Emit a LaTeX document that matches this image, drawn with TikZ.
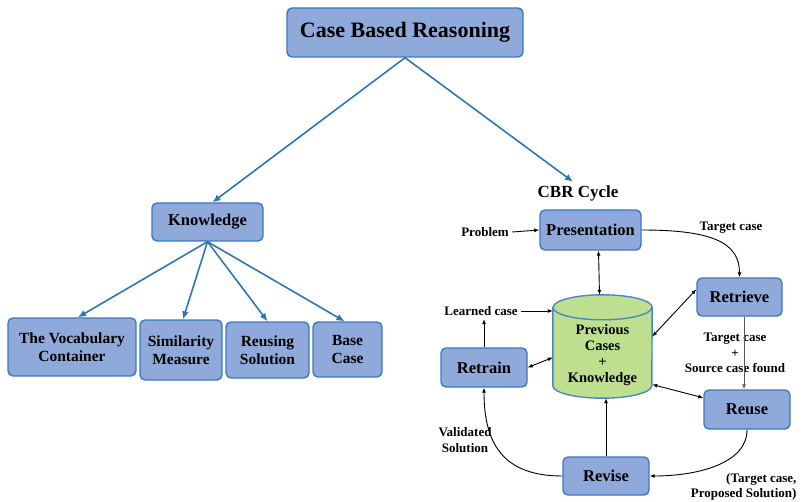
\documentclass[tikz,border=0pt]{standalone}
\usepackage{fontspec}
\setmainfont{Liberation Serif}
\usetikzlibrary{calc, arrows.meta}

\definecolor{boxfill}{HTML}{8EA9DA}
\definecolor{boxline}{HTML}{3C78C0}
\definecolor{treeblue}{HTML}{2E75B6}
\definecolor{dbfill}{HTML}{BFDF90}
\definecolor{dbline}{HTML}{4A86C8}

\tikzset{
	box/.style = {draw = boxline, fill = boxfill, line width = 1.4pt, rounded corners = 5pt,
		align = center, font = \fontsize{16.5}{17}\selectfont\bfseries},
	small box/.style = {box, font = \fontsize{15.5}{17.5}\selectfont\bfseries},
	lbl/.style = {align = center, font = \fontsize{13}{15.5}\selectfont\bfseries},
	tree arrow/.style = {treeblue, line width = 1.6pt, -{Latex[length = 8pt, width = 7pt]}},
	cycle arrow/.style = {black, line width = 0.9pt, -{Latex[length = 5pt, width = 4pt]}},
	both arrow/.style = {black, line width = 0.9pt, {Latex[length = 5pt, width = 4pt]}-{Latex[length = 5pt, width = 4pt]}},
	db end/.style = {x radius = 49.5pt, y radius = 12.5pt}
}

\begin{document}
\begin{tikzpicture}[x = 1pt, y = -1pt]
		\useasboundingbox (0, 0) rectangle (802, 502);
		
		\node [box, minimum width = 236pt, minimum height = 49pt, font = \fontsize{22}{24}\selectfont\bfseries] (cbr) at (405, 32.5) {Case Based Reasoning};
		
		\node [box, minimum width = 111pt, minimum height = 38pt] (knowledge) at (207.5, 222) {Knowledge};
		\node [small box, minimum width = 128pt, minimum height = 58pt] (vocabulary) at (72, 347) {The Vocabulary\\Container};
		\node [small box, minimum width = 82pt, minimum height = 60pt] (similarity) at (181, 350) {Similarity\\Measure};
		\node [small box, minimum width = 83pt, minimum height = 56pt] (reusing) at (267.5, 350) {Reusing\\Solution};
		\node [small box, minimum width = 69pt, minimum height = 55pt] (base case) at (347.5, 349.5) {Base\\Case};
		
		\node [lbl, font = \fontsize{17}{18}\selectfont\bfseries] (cycle) at (578, 193) {CBR Cycle};
		
		\node [box, minimum width = 101pt, minimum height = 40pt] (presentation) at (590.5, 230) {Presentation};
		\node [box, minimum width = 85pt, minimum height = 38pt] (retrieve) at (739.5, 297) {Retrieve};
		\node [box, minimum width = 86pt, minimum height = 39pt] (reuse) at (747, 409.5) {Reuse};
		\node [box, minimum width = 86pt, minimum height = 38pt] (revise) at (606, 476) {Revise};
		\node [box, minimum width = 86pt, minimum height = 39pt] (retrain) at (484, 367.5) {Retrain};
		
		% case base cylinder
		\node [minimum width = 99pt, minimum height = 103pt, inner sep = 0pt] (db) at (602.5, 346.5) {};
		\draw [dbline, fill = dbfill, line width = 1.4pt]
			([yshift = -12.5pt]db.north west) -- ([yshift = 12.5pt]db.south west)
			arc [start angle = 180, end angle = 360, db end]
			-- ([yshift = -12.5pt]db.north east)
			arc [start angle = 0, end angle = 180, db end] -- cycle;
		\draw [dbline, line width = 1.4pt] ([yshift = -12.5pt]db.north west) arc [start angle = 180, end angle = 360, db end];
		\node [align = center, font = \fontsize{14.5}{16}\selectfont\bfseries] (db text) at (602.5, 355) {Previous\\Cases\\+\\Knowledge};
		
		\node [lbl] (problem) at (485, 232) {Problem};
		\node [lbl] (target label) at (731, 228) {Target case};
		\node [lbl] (learned) at (481, 311) {Learned case};
		\node [lbl] (found) at (735, 353) {Target case\\+\\Source case found};
		\node [lbl] (validated) at (465, 440) {Validated\\Solution};
		\node [lbl, align = right, anchor = east] (proposed) at (800, 487) {(Target case,\\Proposed Solution)};
		
		\draw [tree arrow] (cbr.south) -- ([xshift = 5pt]knowledge.north);
		\draw [tree arrow] (cbr.south) -- ([xshift = -5pt]cycle.north);
		
		\draw [tree arrow] (knowledge.south) -- ([xshift = 6pt]vocabulary.north);
		\draw [tree arrow] (knowledge.south) -- ([xshift = 2pt]similarity.north);
		\draw [tree arrow] (knowledge.south) -- (reusing.north);
		\draw [tree arrow] (knowledge.south) -- ([xshift = -3pt]base case.north);
		
		\draw [cycle arrow] (problem.east) -- (presentation.west);
		\draw [both arrow] ([xshift = 8pt]presentation.south) -- ([xshift = -3pt]db.north);
		\draw [cycle arrow] (presentation.east) .. controls +(70, 0) and +(0, -35) .. (retrieve.north);
		\draw [cycle arrow, gray!70!black] ([xshift = -3pt]reuse.north |- retrieve.south) -- ([xshift = -3pt]reuse.north);
		\draw [both arrow] (retrieve.170) -- ([yshift = 10pt]db.east);
		\draw [both arrow] (reuse.165) -- ([yshift = -38pt]db.east);
		\draw [cycle arrow] (reuse.south) .. controls +(0, 35) and +(45, 0) .. (revise.east);
		\draw [cycle arrow] (revise.north) -- (revise.north |- db.south);
		\draw [cycle arrow] (revise.west) .. controls +(-60, 0) and +(0, 55) .. (retrain.south);
		\draw [cycle arrow] (retrain.north) -- (retrain.north |- learned.south);
		\draw [cycle arrow] (learned.east) -- (learned.east -| db.west);
		\draw [both arrow] (retrain.east) -- ([yshift = -11pt]db.west);
	\end{tikzpicture}
\end{document}
